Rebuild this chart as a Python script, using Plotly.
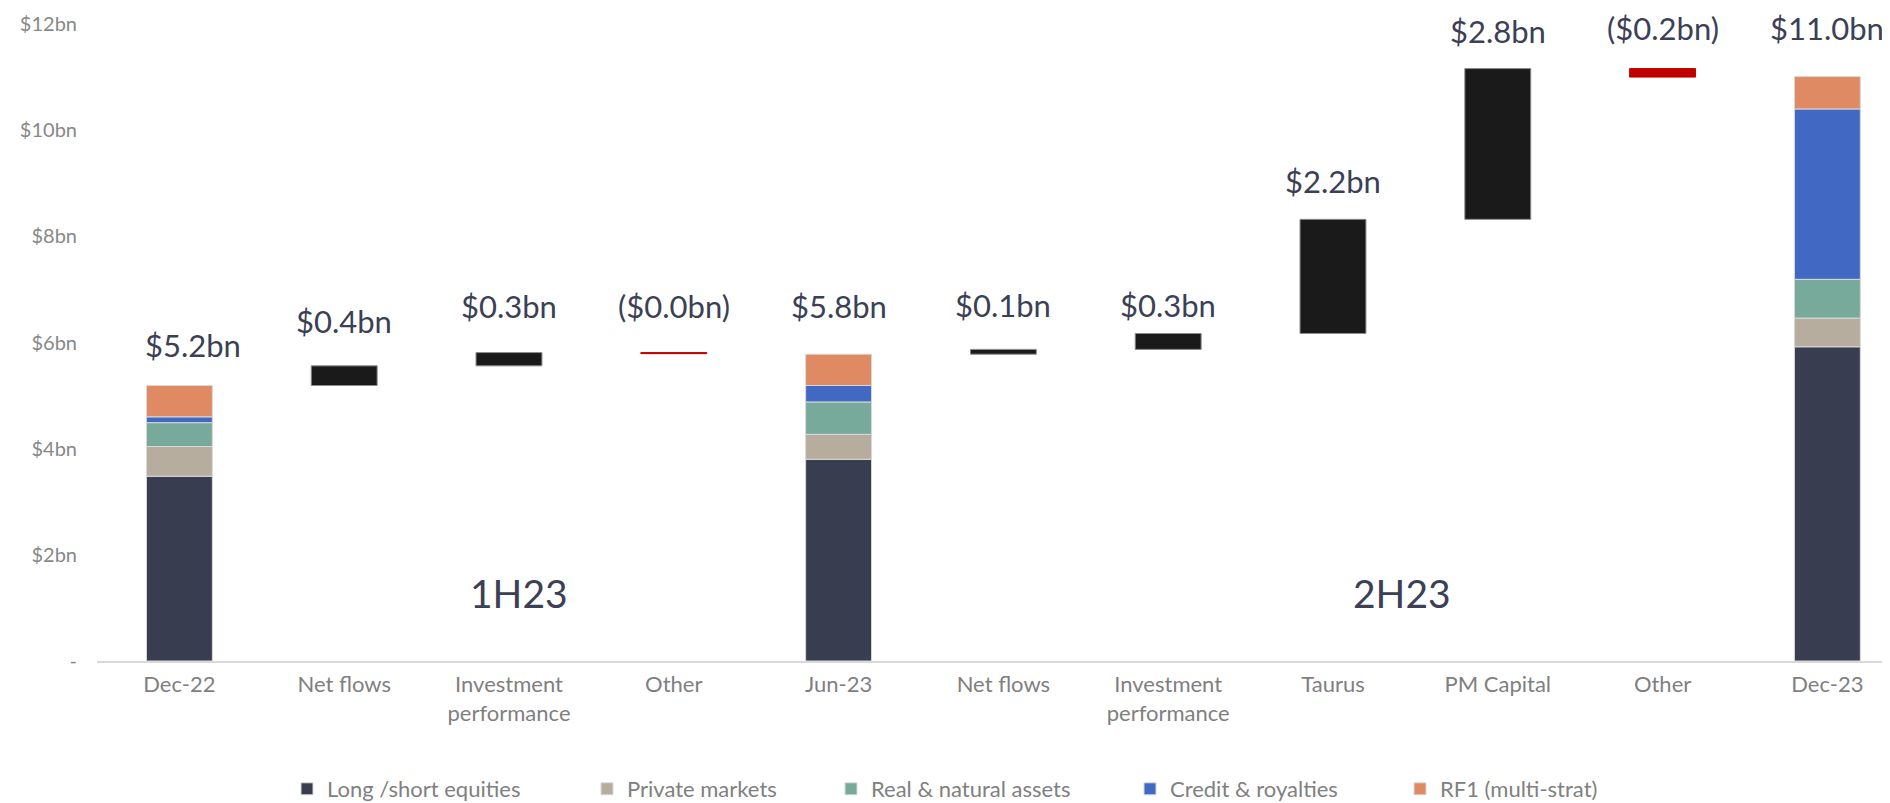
import plotly.graph_objects as go

# Column labels along the x axis
categories = ["Dec-22", "Net flows", "Investment<br>performance", "Other", "Jun-23",
              "Net flows", "Investment<br>performance", "Taurus", "PM Capital", "Other", "Dec-23"]

# FUM split for the three balance columns (Dec-22, Jun-23, Dec-23), $bn
total_cols = [0, 4, 10]
long_short = [3.48, 3.80, 5.92]
private_mkts = [0.56, 0.47, 0.54]
real_assets = [0.45, 0.61, 0.73]
credit = [0.11, 0.31, 3.21]
rf1 = [0.59, 0.59, 0.61]

# Movements between balances, $bn
move_cols_1h = [1, 2, 3]
moves_1h = [0.37, 0.25, -0.02]
move_cols_2h = [5, 6, 7, 8, 9]
moves_2h = [0.09, 0.30, 2.15, 2.84, -0.16]

# Value labels above each column
value_labels = ["$5.2bn", "$0.4bn", "$0.3bn", "($0.0bn)", "$5.8bn", "$0.1bn",
                "$0.3bn", "$2.2bn", "$2.8bn", "($0.2bn)", "$11.0bn"]

segments = [
    ("Long /short equities", long_short, "#383d4f"),
    ("Private markets", private_mkts, "#b6ad9e"),
    ("Real & natural assets", real_assets, "#78aa9b"),
    ("Credit & royalties", credit, "#4169c3"),
    ("RF1 (multi-strat)", rf1, "#e08a64"),
]

fig = go.Figure()

# stacked balance columns
running = [0.0] * len(total_cols)
for i, (name, vals, col) in enumerate(segments):
    fig.add_trace(go.Bar(
        x=total_cols, y=vals, base=list(running), width=0.4,
        name=name, marker=dict(color=col, line=dict(color="#d9d9d9", width=1)),
        legend="legend" if i == 0 else f"legend{i + 1}",
    ))
    running = [r + v for r, v in zip(running, vals)]
totals = running

# floating movement bars
move_x, move_base, move_y = [], [], []
for start, cols, moves in [(totals[0], move_cols_1h, moves_1h), (totals[1], move_cols_2h, moves_2h)]:
    level = start
    for c, m in zip(cols, moves):
        move_x.append(c)
        move_base.append(level)
        move_y.append(m)
        level += m

move_colors = ["#1a1a1a" if m > 0 else "#c00000" for m in move_y]
move_lines = ["#8c8c8c" if m > 0 else "#c00000" for m in move_y]
fig.add_trace(go.Bar(
    x=move_x, y=move_y, base=move_base, width=0.4, showlegend=False,
    marker=dict(color=move_colors, line=dict(color=move_lines, width=1)),
))

# column tops for the value labels
tops = {c: t for c, t in zip(total_cols, totals)}
for c, b, m in zip(move_x, move_base, move_y):
    tops[c] = max(b, b + m)

label_lift = [41, 45, 47, 47, 48, 44, 28, 38, 38, 41, 49]
label_nudge = [14, 0, 0, 0, 0, 0, 0, 0, 0, 0, 0]
for c in range(len(categories)):
    fig.add_annotation(
        x=c, y=tops[c], text=value_labels[c], showarrow=False,
        yanchor="middle", yshift=label_lift[c], xshift=label_nudge[c],
        font=dict(size=31, color="#3b4055", family="Lato"),
    )

# period captions
for x, txt in [(2.06, "1H23"), (7.42, "2H23")]:
    fig.add_annotation(
        x=x, y=1.28, text=txt, showarrow=False,
        font=dict(size=39, color="#3b4055", family="Lato"),
    )

# the page body adds an 8px margin, so the figure is sized to fit inside it
fig_w, fig_h = 1882, 795

# one legend per series so the entries sit where they do in the original
legend_x = [279, 579, 823, 1122, 1392]
legends = {}
for i, lx in enumerate(legend_x):
    key = "legend" if i == 0 else f"legend{i + 1}"
    legends[key] = dict(
        x=lx / fig_w, xref="container", xanchor="left",
        y=14 / fig_h, yref="container", yanchor="middle",
        orientation="h", bgcolor="rgba(0,0,0,0)",
        font=dict(size=22, color="#808080", family="Lato"),
    )

fig.update_layout(
    barmode="overlay",
    plot_bgcolor="white",
    paper_bgcolor="white",
    width=fig_w,
    height=fig_h,
    margin=dict(l=89, r=0, t=16, b=141.5),
    xaxis=dict(
        range=[-0.5, 10.38],
        tickmode="array",
        tickvals=list(range(len(categories))),
        ticktext=categories,
        showgrid=False,
        zeroline=False,
        showline=True,
        linecolor="#d9d9d9",
        linewidth=2,
        ticks="",
        ticklabelstandoff=3,
        tickfont=dict(size=22, color="#7f7f7f", family="Lato"),
    ),
    yaxis=dict(
        range=[0, 12],
        tickmode="array",
        tickvals=[0, 2, 4, 6, 8, 10, 12],
        ticktext=["-", "$2bn", "$4bn", "$6bn", "$8bn", "$10bn", "$12bn"],
        showgrid=False,
        zeroline=False,
        showline=False,
        ticks="",
        ticklabelstandoff=19,
        tickfont=dict(size=20, color="#888888", family="Lato"),
    ),
    **legends,
)

fig.write_html("out.html")
